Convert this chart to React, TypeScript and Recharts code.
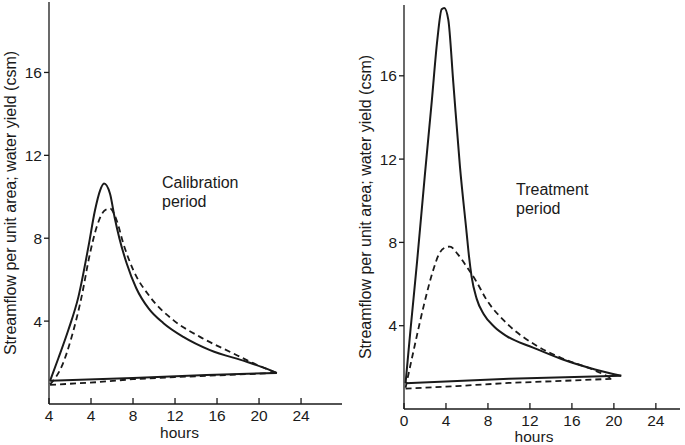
import React from "react"
import { LineChart, Line, XAxis, YAxis, Label } from "recharts"

// hours vs streamflow (csm)
// each storm is a loop: rising/falling limb + the return baseline
const calibSolidUpper = [
  { x: 0.1, y: 1.12 }, { x: 0.9, y: 2.22 }, { x: 1.84, y: 3.57 }, { x: 2.8, y: 5.17 },
  { x: 3.75, y: 7.58 }, { x: 4.38, y: 9.35 }, { x: 4.86, y: 10.3 }, { x: 5.24, y: 10.64 },
  { x: 5.81, y: 10.15 }, { x: 6.25, y: 9.0 }, { x: 6.7, y: 8.0 }, { x: 7.4, y: 6.78 },
  { x: 8.3, y: 5.6 }, { x: 9.5, y: 4.6 }, { x: 10.9, y: 3.9 }, { x: 12.79, y: 3.24 },
  { x: 15.33, y: 2.6 }, { x: 18.83, y: 2.04 }, { x: 20.3, y: 1.78 }, { x: 21.7, y: 1.5 },
]
const calibSolidLower = [
  { x: 0.1, y: 1.12 }, { x: 8, y: 1.25 }, { x: 15, y: 1.4 }, { x: 21.7, y: 1.5 },
]
const calibDashedUpper = [
  { x: 0.1, y: 0.95 }, { x: 1.2, y: 1.8 }, { x: 2.16, y: 3.24 }, { x: 3.1, y: 5.17 },
  { x: 3.9, y: 7.26 }, { x: 4.54, y: 8.54 }, { x: 5.33, y: 9.35 }, { x: 5.81, y: 9.43 },
  { x: 6.44, y: 8.87 }, { x: 7.08, y: 7.74 }, { x: 8.03, y: 6.46 }, { x: 9.62, y: 5.17 },
  { x: 11.84, y: 4.05 }, { x: 14.38, y: 3.24 }, { x: 17.55, y: 2.44 }, { x: 18.83, y: 2.12 },
  { x: 20.4, y: 1.76 }, { x: 21.7, y: 1.5 },
]
const calibDashedLower = [
  { x: 0.1, y: 0.92 }, { x: 4.5, y: 1.05 }, { x: 8, y: 1.2 }, { x: 12, y: 1.3 },
  { x: 16, y: 1.38 }, { x: 21.7, y: 1.5 },
]

const treatSolidUpper = [
  { x: 0.15, y: 1.24 }, { x: 0.6, y: 3.7 }, { x: 1.25, y: 7.1 }, { x: 2.0, y: 11.3 },
  { x: 2.65, y: 14.8 }, { x: 3.17, y: 17.7 }, { x: 3.59, y: 19.2 }, { x: 3.84, y: 19.26 },
  { x: 4.22, y: 18.7 }, { x: 4.7, y: 15.66 }, { x: 5.33, y: 11.65 }, { x: 5.97, y: 8.45 },
  { x: 6.2, y: 7.3 }, { x: 6.44, y: 6.36 }, { x: 6.92, y: 5.3 }, { x: 7.6, y: 4.55 },
  { x: 8.6, y: 3.95 }, { x: 9.78, y: 3.5 }, { x: 12.3, y: 2.95 }, { x: 15, y: 2.4 },
  { x: 18.2, y: 1.9 }, { x: 20.7, y: 1.6 },
]
const treatSolidLower = [
  { x: 0.15, y: 1.24 }, { x: 10, y: 1.45 }, { x: 20.7, y: 1.6 },
]
const treatDashedUpper = [
  { x: 0.15, y: 1.02 }, { x: 1.0, y: 3.0 }, { x: 1.9, y: 5.0 }, { x: 2.8, y: 6.7 },
  { x: 3.3, y: 7.4 }, { x: 3.8, y: 7.72 }, { x: 4.38, y: 7.8 }, { x: 5.1, y: 7.45 },
  { x: 5.97, y: 6.84 }, { x: 6.92, y: 6.1 }, { x: 7.8, y: 5.3 }, { x: 9.78, y: 4.12 },
  { x: 12.6, y: 3.05 }, { x: 15, y: 2.45 }, { x: 18.2, y: 1.85 }, { x: 19.9, y: 1.45 },
]
const treatDashedLower = [
  { x: 0.15, y: 0.98 }, { x: 5, y: 1.1 }, { x: 10, y: 1.25 }, { x: 15, y: 1.35 }, { x: 19.9, y: 1.45 },
]

const xTicks = [0, 4, 8, 12, 16, 20, 24]
const calibXLabels = ["4", "4", "8", "12", "16", "20", "24"]
const treatXLabels = ["0", "4", "8", "12", "16", "20", "24"]
const yTicks = [4, 8, 12, 16]
const yTitle = "Streamflow per unit area; water yield (csm)"

const font = '"Liberation Sans", Arial, sans-serif'
const ink = "#1a1a1a"

const tickStyle = { fill: ink, fontSize: 15.5, fontFamily: font }
const lineProps = {
  type: "monotone" as const,
  dataKey: "y",
  stroke: ink,
  dot: false,
  activeDot: false,
  isAnimationActive: false,
}

function Panel(props: {
  width: number
  xMax: number
  yAxisWidth: number
  margin: { top: number; right: number; bottom: number; left: number }
  xLabels: string[]
  titleOffset: number
  hoursDx: number
  hoursOffset: number
  series: { x: number; y: number }[][]
}) {
  const [su, sl, du, dl] = props.series
  return (
    <LineChart width={props.width} height={445} margin={props.margin}>
      <XAxis
        type="number"
        dataKey="x"
        domain={[0, props.xMax]}
        allowDataOverflow
        ticks={xTicks}
        tickFormatter={(v: number) => props.xLabels[xTicks.indexOf(v)] ?? String(v)}
        tick={tickStyle}
        tickSize={-6}
        tickMargin={12}
        height={36}
        axisLine={{ stroke: ink, strokeWidth: 1.3 }}
        tickLine={{ stroke: ink, strokeWidth: 1.3 }}
      >
        <Label
          value="hours"
          position="insideBottom"
          offset={props.hoursOffset}
          dx={props.hoursDx}
          style={{ fill: ink, fontSize: 15.5, fontFamily: font }}
        />
      </XAxis>
      <YAxis
        type="number"
        domain={[0, 19.4]}
        allowDataOverflow
        ticks={yTicks}
        tick={tickStyle}
        tickSize={5}
        tickMargin={2}
        width={props.yAxisWidth}
        axisLine={{ stroke: ink, strokeWidth: 1.3 }}
        tickLine={{ stroke: ink, strokeWidth: 1.3 }}
      >
        <Label
          value={yTitle}
          angle={-90}
          position="insideLeft"
          offset={props.titleOffset}
          style={{ textAnchor: "middle", fill: ink, fontSize: 16, fontFamily: font }}
        />
      </YAxis>
      <Line {...lineProps} data={su} strokeWidth={2} />
      <Line {...lineProps} data={sl} type="linear" strokeWidth={2} />
      <Line {...lineProps} data={du} strokeWidth={1.8} strokeDasharray="6 4" />
      <Line {...lineProps} data={dl} type="linear" strokeWidth={1.8} strokeDasharray="6 4" />
    </LineChart>
  )
}

export default function App() {
  const note: React.CSSProperties = {
    position: "absolute",
    fontFamily: font,
    fontSize: 16,
    lineHeight: "19px",
    color: ink,
  }
  return (
    <div style={{ position: "absolute", left: 0, top: 0, width: 685, height: 445, background: "#fff" }}>
      <div style={{ position: "absolute", left: 0, top: 0 }}>
        <Panel
          width={345}
          xMax={27.9}
          yAxisWidth={49}
          margin={{ top: 2, right: 3, bottom: 5, left: 0 }}
          xLabels={calibXLabels}
          titleOffset={10}
          hoursDx={-16}
          hoursOffset={2}
          series={[calibSolidUpper, calibSolidLower, calibDashedUpper, calibDashedLower]}
        />
      </div>
      <div style={{ position: "absolute", left: 345, top: 0 }}>
        <Panel
          width={340}
          xMax={26.3}
          yAxisWidth={59}
          margin={{ top: 5, right: 5, bottom: 0, left: 0 }}
          xLabels={treatXLabels}
          titleOffset={20}
          hoursDx={-8}
          hoursOffset={3}
          series={[treatSolidUpper, treatSolidLower, treatDashedUpper, treatDashedLower]}
        />
      </div>
      <div style={{ ...note, left: 162, top: 173 }}>
        Calibration<br />period
      </div>
      <div style={{ ...note, left: 516, top: 180 }}>
        Treatment<br />period
      </div>
    </div>
  )
}
